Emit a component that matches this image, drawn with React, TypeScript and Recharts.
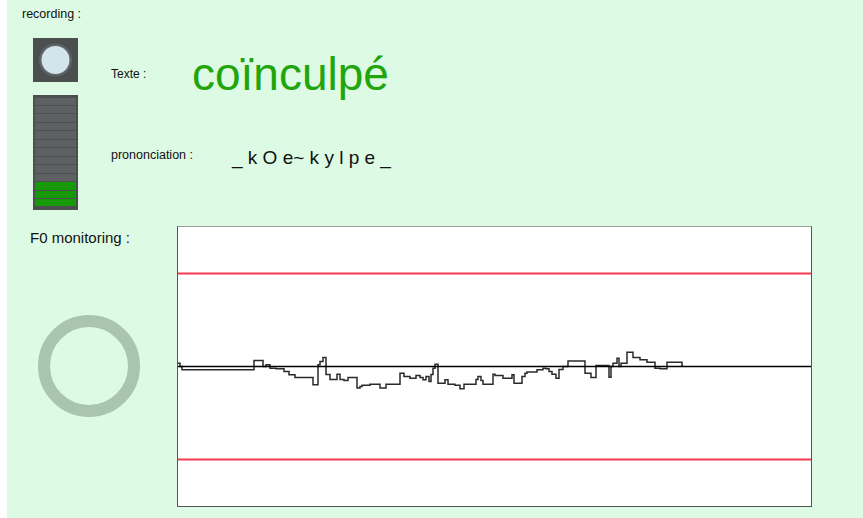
import { Line, LineChart, ReferenceLine, XAxis, YAxis } from "recharts";

// F0 deviation from the target contour, in semitones, sampled in ms
const f0Times = [
  0, 10, 20, 380, 425, 440, 460, 490, 530, 555, 585, 675, 700, 710, 725, 740,
  760, 795, 810, 830, 850, 895, 910, 920, 960, 1010, 1040, 1110, 1130, 1160,
  1190, 1210, 1225, 1240, 1255, 1265, 1275, 1285, 1300, 1335, 1350, 1385, 1410,
  1430, 1490, 1500, 1515, 1525, 1575, 1585, 1625, 1670, 1680, 1720, 1735, 1745,
  1795, 1825, 1840, 1855, 1870, 1890, 1905, 1925, 1950, 2035, 2065, 2090, 2155,
  2165, 2175, 2195, 2205, 2215, 2245, 2275, 2310, 2345, 2385, 2410, 2445, 2520,
  2525,
];
const f0Values = [
  0.14, 0, -0.14, 0.26, 0, 0.07, -0.07, -0.1, -0.21, -0.36, -0.47, -0.78, 0.07,
  0.21, 0.39, -0.34, -0.56, -0.33, -0.56, -0.6, -0.47, -0.93, -0.86, -0.81,
  -0.76, -0.93, -0.76, -0.29, -0.43, -0.5, -0.39, -0.47, -0.57, -0.43, -0.64,
  -0.34, -0.07, 0.1, -0.72, -0.57, -0.76, -0.81, -0.96, -0.76, -0.56, -0.43,
  -0.6, -0.76, -0.33, -0.39, -0.5, -0.36, -0.72, -0.43, -0.29, -0.24, -0.14,
  -0.07, -0.1, -0.21, -0.33, -0.5, -0.13, 0, 0.24, -0.29, -0.47, 0.04, -0.46, 0,
  0.14, 0.36, 0, 0.14, 0.61, 0.39, 0.29, 0.18, -0.07, -0.1, 0.18, 0.04, 0.04,
];
const windowMs = 3165;
const rangeLimit = 6;
const toleranceBand = [4, -4];

const levelSegments = 13;
const levelActive = 3;

const word = "coïnculpé";
const phonemes = ["_", "k", "O", "e~", "k", "y", "l", "p", "e", "_"];

const f0Data = f0Times.map((t, i) => ({ t, f0: f0Values[i] }));

const label: React.CSSProperties = {
  position: "absolute",
  fontFamily: "'Liberation Sans', Arial, sans-serif",
  color: "#111",
  whiteSpace: "nowrap",
  lineHeight: 1,
};

function LevelMeter() {
  const segH = 110 / levelSegments;
  return (
    <div
      style={{
        position: "absolute",
        left: 33,
        top: 95,
        width: 45,
        height: 115,
        background: "#4b4f50",
      }}
    >
      {Array.from({ length: levelSegments }, (_, i) => {
        const on = i >= levelSegments - levelActive;
        return (
          <div
            key={i}
            style={{
              position: "absolute",
              left: 2,
              right: 2,
              top: 2.5 + i * segH,
              height: segH - 1,
              background: on ? "#169a08" : "#5d6163",
            }}
          />
        );
      })}
    </div>
  );
}

export default function App() {
  return (
    <div
      style={{
        position: "absolute",
        left: 0,
        top: 0,
        width: 863,
        height: 518,
        background: "#fff",
        overflow: "hidden",
      }}
    >
      <div
        style={{
          position: "absolute",
          left: 7,
          top: 0,
          width: 856,
          height: 518,
          background: "#ddfbe4",
        }}
      />
      <div style={{ ...label, left: 22, top: 8, fontSize: 12.5 }}>recording :</div>

      <svg
        style={{ position: "absolute", left: 33, top: 38 }}
        width={45}
        height={44}
      >
        <rect width={45} height={44} fill="#4b4f50" />
        <circle cx={22.5} cy={22} r={16.5} fill="#5e6466" />
        <circle cx={22.5} cy={22} r={14} fill="#d3e4ea" />
      </svg>
      <LevelMeter />

      <div style={{ ...label, left: 111, top: 68, fontSize: 12 }}>Texte :</div>
      <div
        style={{ ...label, left: 192, top: 51, fontSize: 46, color: "#22a50a" }}
      >
        {word}
      </div>
      <div style={{ ...label, left: 111, top: 149, fontSize: 12.5 }}>
        prononciation :
      </div>
      <div style={{ ...label, left: 232, top: 148, fontSize: 19 }}>
        {phonemes.join(" ")}
      </div>

      <div style={{ ...label, left: 30, top: 230, fontSize: 15 }}>
        F0 monitoring :
      </div>
      <svg
        style={{ position: "absolute", left: 30, top: 307 }}
        width={118}
        height={118}
      >
        <circle cx={59} cy={59} r={45} fill="none" stroke="#a9c5ae" strokeWidth={12} />
      </svg>

      <div
        style={{
          position: "absolute",
          left: 177,
          top: 226,
          width: 633,
          height: 279,
          background: "#fff",
          borderTop: "1px solid #9a9a9a",
          borderLeft: "1px solid #555",
          borderRight: "1px solid #555",
          borderBottom: "1px solid #555",
        }}
      >
        <LineChart
          width={633}
          height={279}
          data={f0Data}
          margin={{ top: 0, right: 0, bottom: 0, left: 0 }}
        >
          <XAxis dataKey="t" type="number" domain={[0, windowMs]} hide />
          <YAxis type="number" domain={[-rangeLimit, rangeLimit]} hide />
          {toleranceBand.map((v) => (
            <ReferenceLine key={v} y={v} stroke="#f23a50" strokeWidth={2} />
          ))}
          <Line
            type="stepAfter"
            dataKey="f0"
            stroke="#2a2a2a"
            strokeWidth={1.5}
            dot={false}
            isAnimationActive={false}
          />
          <ReferenceLine y={0} stroke="#000" strokeWidth={1.5} />
        </LineChart>
      </div>
    </div>
  );
}
